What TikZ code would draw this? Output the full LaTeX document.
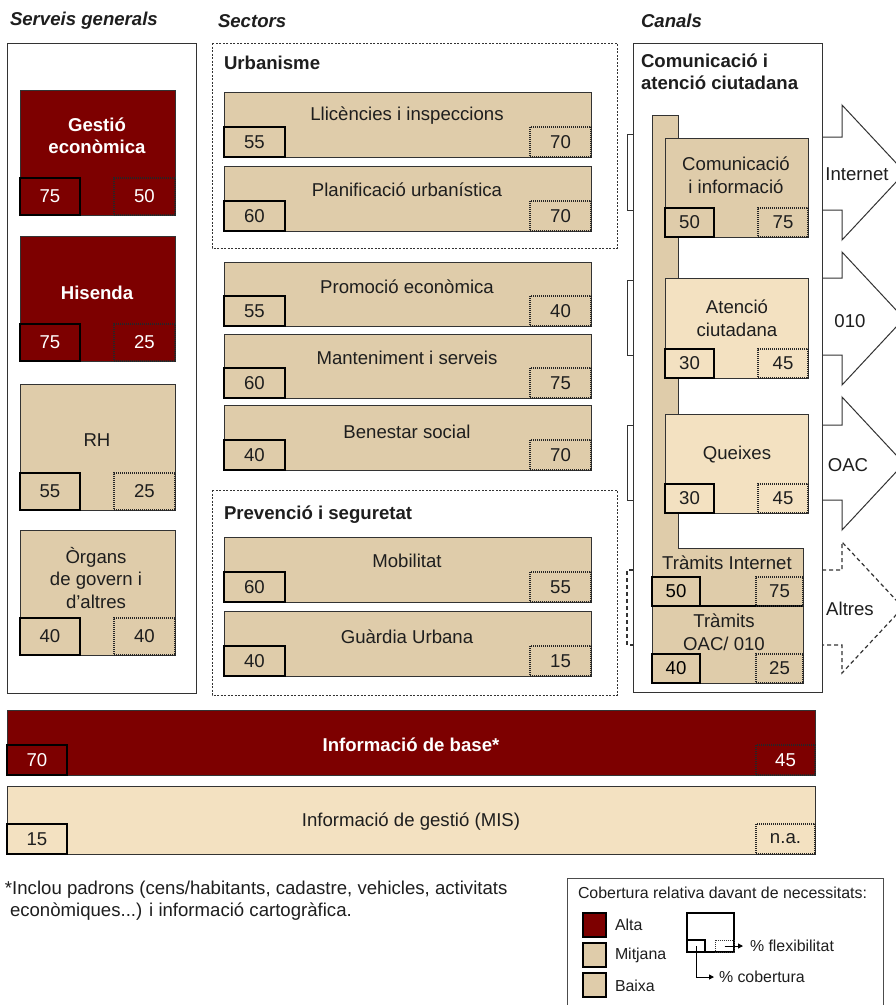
\documentclass[tikz,border=0pt]{standalone}
\usepackage{fontspec}
\setmainfont{Liberation Sans}
\usetikzlibrary{arrows.meta}

\definecolor{alta}{HTML}{7D0000}
\definecolor{mitjana}{HTML}{DFCCAA}
\definecolor{baixa}{HTML}{F3E1C1}
\definecolor{frame}{HTML}{333333}
\definecolor{ink}{HTML}{1E1E1E}
\colorlet{txtalta}{white}
\colorlet{txtmitjana}{ink}
\colorlet{txtbaixa}{ink}

\newcommand\lblfont{\fontsize{18.6}{22.5}\selectfont}
\newcommand\legfont{\fontsize{15.9}{18}\selectfont}

% widths of the two number boxes and their height, set per group
\def\nwL{60}\def\nwR{61}\def\nh{37}

% one unit: main box with a coverage box (left) and a flexibility box (right)
\newcommand\unitbox[8]{%
  \node[unit, fill=#6, anchor=north west,
        minimum width={(#4-#2)*1pt}, minimum height={(#5-#3)*1pt}] (#1) at (#2,#3) {};
  \node[covbox, fill=#6, text=txt#6, anchor=south west,
        minimum width=\nwL pt, minimum height=\nh pt] (#1-c) at (#1.south west) {#7};
  \node[flexbox, text=txt#6, anchor=south east,
        minimum width=\nwR pt, minimum height=\nh pt] (#1-f) at (#1.south east) {#8};
}

\begin{document}
\begin{tikzpicture}[x=1pt,y=-1pt,
  every node/.style={inner sep=0pt, outer sep=0pt},
  unit/.style={draw=frame, line width=1pt},
  covbox/.style={draw=black, line width=2.4pt, font=\lblfont},
  flexbox/.style={draw=black!85, line width=1.3pt, dash pattern=on 1pt off 1pt, font=\lblfont},
  lbl/.style={font=\lblfont, text=ink, align=center},
  lblw/.style={font=\lblfont\bfseries, text=white, align=center},
  grouphead/.style={font=\lblfont\bfseries, text=ink, align=left, anchor=west},
  title/.style={font=\lblfont\bfseries\itshape, text=ink, anchor=west},
  panel/.style={draw=frame, line width=1pt},
  dpanel/.style={draw=frame, line width=1pt, dash pattern=on 2pt off 1.5pt},
  chan/.style={draw=frame, line width=1pt},
  dchan/.style={draw=frame, line width=1.2pt, dash pattern=on 4pt off 3pt},
  legtxt/.style={font=\legfont, text=ink, anchor=west},
  swatch/.style={draw=black, line width=1.2pt, minimum width=23pt, minimum height=24pt, anchor=north west},
  legarrow/.style={draw=black, line width=1pt, -{Triangle[length=5pt,width=5pt]}}
]
\useasboundingbox (0,0) rectangle (896,1005);
\fill[white] (0,0) rectangle (896,1005);
\clip (0,0) rectangle (896,1005);

% ---------- column titles ----------
\node[title] (t-serv) at (10,21) {Serveis generals};
\node[title] (t-sect) at (218,21) {Sectors};
\node[title] (t-can)  at (641,21) {Canals};

% ---------- Serveis generals ----------
\draw[panel] (7,43) rectangle (196,693);
\def\nwL{60}\def\nwR{61}\def\nh{37}
\unitbox{gest}{20}{90}{175}{215}{alta}{75}{50}
\unitbox{his}{20}{236}{175}{361}{alta}{75}{25}
\unitbox{rh}{20}{384}{175}{510}{mitjana}{55}{25}
\unitbox{org}{20}{530}{175}{655}{mitjana}{40}{40}
\node[lblw] (gest-t) at (97,136) {Gestió\\econòmica};
\node[lblw] (his-t)  at (97,293) {Hisenda};
\node[lbl]  (rh-t)   at (97,440) {RH};
\node[lbl]  (org-t)  at (96,578) {Òrgans\\de govern i\\d’altres};

% ---------- Sectors ----------
\draw[dpanel] (212,43) rectangle (617,248);
\draw[dpanel] (212,490) rectangle (617,695);
\node[grouphead] (urb-h)  at (224,63)  {Urbanisme};
\node[grouphead] (prev-h) at (224,515) {Prevenció i seguretat};
\def\nwL{61}\def\nwR{61}\def\nh{30}
\unitbox{llic}{224}{92}{591}{157}{mitjana}{55}{70}
\unitbox{plan}{224}{166}{591}{231}{mitjana}{60}{70}
\unitbox{prom}{224}{262}{591}{326}{mitjana}{55}{40}
\unitbox{mant}{224}{334}{591}{398}{mitjana}{60}{75}
\unitbox{bene}{224}{405}{591}{470}{mitjana}{40}{70}
\unitbox{mobi}{224}{537}{591}{602}{mitjana}{60}{55}
\unitbox{guar}{224}{611}{591}{676}{mitjana}{40}{15}
\node[lbl] (llic-t) at (407,116) {Llicències i inspeccions};
\node[lbl] (plan-t) at (407,190) {Planificació urbanística};
\node[lbl] (prom-t) at (407,287) {Promoció econòmica};
\node[lbl] (mant-t) at (407,358) {Manteniment i serveis};
\node[lbl] (bene-t) at (407,432) {Benestar social};
\node[lbl] (mobi-t) at (407,561) {Mobilitat};
\node[lbl] (guar-t) at (407,637) {Guàrdia Urbana};

% ---------- Canals ----------
\draw[panel] (633,43) rectangle (822,692);
\node[grouphead] (com-h) at (641,72) {Comunicació i\\atenció ciutadana};

% links from the services to the channel panel
\draw[chan]  (633,134) -- (627,134) -- (627,210) -- (633,210);
\draw[chan]  (633,280) -- (627,280) -- (627,355) -- (633,355);
\draw[chan]  (633,425) -- (627,425) -- (627,500) -- (633,500);
\draw[dchan] (633,570) -- (627,570) -- (627,645) -- (633,645);

% channel arrows
\draw[chan] (822,137) -- (842,137) -- (842,105) -- (905,172.5) -- (842,240) -- (842,210) -- (822,210);
\draw[chan] (822,278) -- (842,278) -- (842,252) -- (904,318.5) -- (842,385) -- (842,355) -- (822,355);
\draw[chan] (822,425) -- (842,425) -- (842,397) -- (904,463.5) -- (842,530) -- (842,500) -- (822,500);
\draw[dchan] (822,570) -- (842,570) -- (842,542) -- (903,607.5) -- (842,673) -- (842,645) -- (822,645);
\node[lbl] (ch-int) at (857,174) {Internet};
\node[lbl] (ch-010) at (850,321) {010};
\node[lbl] (ch-oac) at (848,465) {OAC};
\node[lbl] (ch-alt) at (850,609) {Altres};

% spine shared by the services, ending in the procedures block
\draw[unit, fill=mitjana] (652,115) -- (678,115) -- (678,548) -- (803,548) -- (803,683) -- (652,683) -- cycle;
\def\nwL{49}\def\nwR{50}\def\nh{29}
\unitbox{ci}{665}{138}{808}{237}{mitjana}{50}{75}
\unitbox{ac}{665}{278}{808}{378}{baixa}{30}{45}
\unitbox{qu}{665}{414}{808}{513}{baixa}{30}{45}
\node[lbl] (ci-t) at (736,175) {Comunicació\\i informació};
\node[lbl] (ac-t) at (737,318) {Atenció\\ciutadana};
\node[lbl] (qu-t) at (737,455) {Queixes};

% procedures
\draw[draw=black, line width=2pt] (652,606) -- (803,606);
\node[covbox, fill=mitjana, anchor=south west, minimum width=48pt, minimum height=29pt] (ti-c) at (652,606) {50};
\node[flexbox, text=ink, anchor=south east, minimum width=47pt, minimum height=29pt] (ti-f) at (803,606) {75};
\node[covbox, fill=mitjana, anchor=south west, minimum width=48pt, minimum height=29pt] (to-c) at (652,683) {40};
\node[flexbox, text=ink, anchor=south east, minimum width=47pt, minimum height=29pt] (to-f) at (803,683) {25};
\node[lbl] (ti-t) at (727,563) {Tràmits Internet};
\node[lbl] (to-t) at (724,632) {Tràmits\\OAC/ 010};

% ---------- shared information ----------
\def\nwL{60}\def\nwR{59}\def\nh{30}
\unitbox{base}{7}{710}{815}{775}{alta}{70}{45}
\unitbox{mis}{7}{786}{815}{854}{baixa}{15}{n.a.}
\node[lblw] (base-t) at (411,745) {Informació de base*};
\node[lbl]  (mis-t)  at (411,822) {Informació de gestió (MIS)};

% footnote
\node[lbl, anchor=west] (note1) at (5,890) {*Inclou padrons (cens/habitants, cadastre, vehicles, activitats};
\node[lbl, anchor=west] (note2) at (10,912) {econòmiques...) i informació cartogràfica.};

% ---------- legend ----------
\draw[draw=black!70, line width=1pt] (567,1010) -- (567,878) -- (883,878) -- (883,1010);
\node[legtxt] (lg-h) at (578,893) {Cobertura relativa davant de necessitats:};
\node[swatch, fill=alta]    (sw-a) at (583,913) {};
\node[swatch, fill=mitjana] (sw-m) at (583,943) {};
\node[swatch, fill=mitjana] (sw-b) at (583,973) {};
\node[legtxt] (sw-a-t) at (615,925) {Alta};
\node[legtxt] (sw-m-t) at (615,955) {Mitjana};
\node[legtxt] (sw-b-t) at (615,986) {Baixa};

\node[draw=black, line width=1.2pt, fill=white, anchor=north west,
      minimum width=47pt, minimum height=39pt] (lg-box) at (687,913) {};
\node[draw=black, line width=1.5pt, anchor=south west,
      minimum width=18pt, minimum height=12pt] (lg-c) at (lg-box.south west) {};
\node[draw=black!80, line width=1pt, dash pattern=on 1pt off 1pt, anchor=south east,
      minimum width=19pt, minimum height=12pt] (lg-f) at (lg-box.south east) {};
\node[legtxt] (lg-ft) at (750,946) {\% flexibilitat};
\node[legtxt] (lg-ct) at (719,977) {\% cobertura};
\draw[legarrow] (lg-f.center) -- ([xshift=-7pt]lg-ft.west);
\draw[legarrow] (lg-c.center) |- ([xshift=-5pt]lg-ct.west);
\end{tikzpicture}
\end{document}
